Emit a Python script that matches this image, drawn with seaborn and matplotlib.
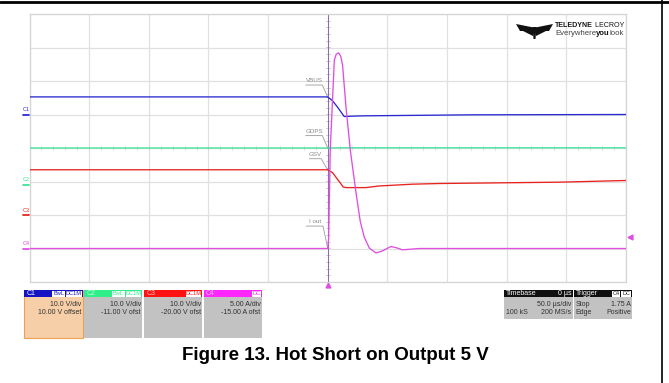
import numpy as np
import pandas as pd
import matplotlib
matplotlib.use("Agg")
import matplotlib.pyplot as plt
import seaborn as sns
from matplotlib.patches import Rectangle, Polygon
from matplotlib.lines import Line2D

# ---------------- data ----------------
# time in microseconds, trigger at 0
vbus_t = [-250, -0.3, 2, 4, 8, 13.8, 20, 30, 60, 120, 250]
vbus_v = [5.25, 5.25, 4.7, 4.1, 2.3, -0.6, -0.5, -0.4, -0.3, -0.1, 0.0]

gdps_t = [-250, 0, 10, 250]
gdps_v = [11.0, 11.0, 11.05, 11.05]

gsv_t = [-250, -0.2, 4, 13, 15.4, 32, 43, 71, 94, 144, 194, 250]
gsv_v = [13.5, 13.5, 12.66, 8.36, 8.18, 8.18, 8.66, 9.2, 9.4, 9.6, 9.8, 10.3]

iout_t = [-250, 0, 0.7, 2.1, 5.5, 7.1, 9.1, 10.9, 12.4, 15.3, 18.9, 23.7, 27.3,
          30.6, 34.8, 40.4, 45.7, 53, 58.3, 62.5, 76.8, 250]
iout_a = [0, 0, 1.3, 14.7, 28.1, 29.0, 29.2, 28.7, 27.4, 21.1, 14.7, 8.3, 4.0,
          1.7, 0.07, -0.67, -0.37, 0.3, 0.07, -0.2, 0, 0]

channels = ["C1", "C2", "C3", "C4"]
trace_names = ["VBUS", "GDPS", "GSV", "I out"]
scales = [10.0, 10.0, 10.0, 5.0]          # units/div
offsets = [10.0, -11.0, -20.0, -15.0]     # offset
colors = ["#2a2ad0", "#3ee39a", "#e8231f", "#e04ee0"]

panel_lines = [("10.0 V/div", "10.00 V offset"), ("10.0 V/div", "-11.00 V ofst"),
               ("10.0 V/div", "-20.00 V ofst"), ("5.00 A/div", "-15.00 A ofst")]
panel_boxes = [["BwL", "DC1M"], ["BwL", "DC1M"], ["DC1M"], ["DC"]]

timebase_text = ("Timebase", "0 µs", "50.0 µs/div", "100 kS", "200 MS/s")
trigger_text = ("Trigger", "Stop", "1.75 A", "Edge", "Positive")
trigger_level = 1.75
title = "Figure 13. Hot Short on Output 5 V"

# ---------------- figure ----------------
W, H = 669, 383
sns.set_style("white")
plt.rcParams["font.family"] = ["Liberation Sans", "DejaVu Sans"]
fig = plt.figure(figsize=(W / 100, H / 100), dpi=100)
fig.patch.set_facecolor("white")
renderer = fig.canvas.get_renderer()


def fx(x):
    return x / W


def fy(y):
    return 1 - y / H


L, R, T, B = 29.5, 626.0, 14.0, 282.0
ax = fig.add_axes([fx(L), fy(B), (R - L) / W, (B - T) / H])
ax.set_facecolor("white")

rows = []
series = [(vbus_t, vbus_v), (gdps_t, gdps_v), (gsv_t, gsv_v), (iout_t, iout_a)]
for ch, (tt, vv), sc, off in zip(channels, series, scales, offsets):
    for t, v in zip(tt, vv):
        rows.append({"t": t, "div": (v + off) / sc, "ch": ch})
df = pd.DataFrame(rows)

sns.lineplot(data=df, x="t", y="div", hue="ch", palette=dict(zip(channels, colors)),
             ax=ax, legend=False, linewidth=0.95, sort=False, estimator=None, zorder=3)

ax.set_xlim(-250, 250)
ax.set_ylim(-4, 4)
ax.set_xticks(np.arange(-250, 251, 50))
ax.set_yticks(np.arange(-4, 5, 1))
ax.grid(True, color="#e0e0e0", linewidth=0.9)
ax.set_axisbelow(True)
ax.tick_params(length=0, labelbottom=False, labelleft=False)
ax.set_xlabel("")
ax.set_ylabel("")
for s in ax.spines.values():
    s.set_color("#d4d4d4")
    s.set_linewidth(0.9)

# center axis ticks
for t in np.arange(-250, 251, 10):
    ax.plot([t, t], [-0.045, 0.045], color="#d0d0d0", lw=0.5, zorder=1)
for yv in np.arange(-4, 4.01, 0.2):
    ax.plot([-1.6, 1.6], [yv, yv], color="#c0b0cc", lw=0.5, zorder=1)
# trigger position line
ax.axvline(0, color="#8a6aa8", lw=0.7, zorder=1.5)

# trace labels with leader lines
label_pos = {"VBUS": (-11.5, 1.93), "GDPS": (-11.5, 0.42), "GSV": (-10.5, -0.27),
             "I out": (-11, -2.28)}
for name, ch, (tt, vv), sc, off in zip(trace_names, channels, series, scales, offsets):
    lx, ly = label_pos[name]
    v0 = np.interp(0.0, tt, vv)
    y0 = (v0 + off) / sc
    ax.text(lx, ly, name, fontsize=4.5, color="#8a8a8a", ha="center", va="bottom")
    half = 7.0 if len(name) > 3 else 5.0
    ax.plot([lx - half, lx + half, 0], [ly - 0.05, ly - 0.05, y0], color="#9a9a9a",
            lw=0.6, zorder=2)

# trigger level arrow on right
ty = (trigger_level + offsets[3]) / scales[3]
ax.plot([253], [ty], marker="<", color=colors[3], markersize=3.5, clip_on=False)
ax.plot([0], [-4.1], marker="^", color=colors[3], markersize=3.5, clip_on=False)

# channel ground markers on the left
for ch, sc, off, col in zip(channels, scales, offsets, colors):
    gy_div = off / sc
    ypix = T + (4 - gy_div) * (B - T) / 8
    fig.text(fx(22.5), fy(ypix - 5), ch, fontsize=4.0, color=col, ha="left", va="center")
    fig.add_artist(Line2D([fx(23), fx(28.5)], [fy(ypix), fy(ypix)], color=col, lw=1.3,
                          transform=fig.transFigure))

# top rule and right rule (document frame)
fig.add_artist(Line2D([0, 1], [fy(1.5), fy(1.5)], color="black", lw=2.0,
                      transform=fig.transFigure))
fig.add_artist(Line2D([fx(662), fx(662)], [fy(0), fy(383)], color="black", lw=1.2,
                      transform=fig.transFigure))


def rect(x0, y0, x1, y1, fc, ec="none", lw=0.0, z=3):
    fig.add_artist(Rectangle((fx(x0), fy(y1)), (x1 - x0) / W, (y1 - y0) / H,
                             facecolor=fc, edgecolor=ec, linewidth=lw,
                             transform=fig.transFigure, zorder=z))


FS = 5.0
hdr_cols = ["#1414c4", "#30ee88", "#ff1212", "#ff26ff"]
hdr_txt = ["white", "#b8ffd8", "#ffc0c0", "#ffc0ff"]
panel_x = [(24, 82.7), (84, 142.3), (144, 202.3), (203.5, 262)]
for i, (x0, x1) in enumerate(panel_x):
    body = "#f6cfa8" if i == 0 else "#c2c2c2"
    rect(x0, 290, x1, 338, body, ec="#f0a050" if i == 0 else "none", lw=0.8 if i == 0 else 0)
    rect(x0, 290, x1, 297.3, hdr_cols[i])
    fig.text(fx(x0 + 2.5), fy(293.8), channels[i], fontsize=FS, color=hdr_txt[i],
             ha="left", va="center", zorder=5)
    bx = x1 - 1
    for b in reversed(panel_boxes[i]):
        wb = 3.2 * len(b) + 3.0
        rect(bx - wb, 290.8, bx, 296.6, "white", z=4)
        fig.text(fx(bx - wb / 2), fy(293.8), b, fontsize=4.1, color=hdr_cols[i],
                 ha="center", va="center", zorder=5)
        bx -= wb + 1.0
    fig.text(fx(x1 - 1.5), fy(304.3), panel_lines[i][0], fontsize=FS, color="#303030",
             ha="right", va="center", zorder=5)
    fig.text(fx(x1 - 1.5), fy(313.0), panel_lines[i][1], fontsize=FS, color="#303030",
             ha="right", va="center", zorder=5)

# timebase panel
rect(504, 290, 572.7, 319.3, "#c2c2c2")
rect(504, 290, 572.7, 297.3, "#101010")
fig.text(fx(506), fy(293.8), timebase_text[0], fontsize=FS, color="white", ha="left",
         va="center", zorder=5)
fig.text(fx(571.5), fy(293.8), timebase_text[1], fontsize=FS, color="white", ha="right",
         va="center", zorder=5)
fig.text(fx(571.5), fy(304.3), timebase_text[2], fontsize=FS, color="#303030", ha="right",
         va="center", zorder=5)
fig.text(fx(505.5), fy(313.0), timebase_text[3], fontsize=FS, color="#303030", ha="left",
         va="center", zorder=5)
fig.text(fx(571.5), fy(313.0), timebase_text[4], fontsize=FS, color="#303030", ha="right",
         va="center", zorder=5)

# trigger panel
rect(574, 290, 631.7, 319.3, "#c2c2c2")
rect(574, 290, 631.7, 297.3, "#101010")
fig.text(fx(576), fy(293.8), trigger_text[0], fontsize=FS, color="white", ha="left",
         va="center", zorder=5)
rect(621.0, 290.8, 630.9, 296.6, "white", z=4)
rect(611.5, 290.8, 620.3, 296.6, "white", z=4)
fig.text(fx(615.9), fy(293.8), "C4", fontsize=4.0, color="#202020", ha="center",
         va="center", zorder=5)
fig.text(fx(626), fy(293.8), "DC", fontsize=4.0, color="#202020", ha="center",
         va="center", zorder=5)
fig.text(fx(575.5), fy(304.3), trigger_text[1], fontsize=FS, color="#303030", ha="left",
         va="center", zorder=5)
fig.text(fx(631), fy(304.3), trigger_text[2], fontsize=FS, color="#303030", ha="right",
         va="center", zorder=5)
fig.text(fx(575.5), fy(313.0), trigger_text[3], fontsize=FS, color="#303030", ha="left",
         va="center", zorder=5)
fig.text(fx(631), fy(313.0), trigger_text[4], fontsize=FS, color="#303030", ha="right",
         va="center", zorder=5)

# logo
logo = [[(516, 24), (533.5, 27.5), (533.5, 31), (520, 31)],
        [(553, 24), (535.5, 27.5), (535.5, 31), (549, 31)],
        [(532.5, 27), (536.5, 27), (535.5, 39), (533.5, 39)],
        [(523, 31), (533, 31), (533, 36)],
        [(546, 31), (536, 31), (536, 36)]]
for poly in logo:
    fig.add_artist(Polygon([(fx(a), fy(b)) for a, b in poly], closed=True,
                           facecolor="#111111", edgecolor="none", transform=fig.transFigure))


def seq_text(x, y, pieces, size):
    """draw text pieces one after another (x,y in pixels from top-left)"""
    for s, wgt, col in pieces:
        t = fig.text(fx(x), fy(y), s, fontsize=size, fontweight=wgt, color=col,
                     ha="left", va="center")
        bb = t.get_window_extent(renderer=renderer)
        x += bb.width


seq_text(555, 25.8, [("TELEDYNE", "bold", "#151515"), (" LECROY", "normal", "#151515")], 5.15)
seq_text(555, 33.4, [("Everywhere", "normal", "#444444"), ("you", "bold", "#111111"),
                     ("look", "normal", "#444444")], 5.6)

# caption
fig.text(fx(335.5), fy(355), title, fontsize=13.5, fontweight="bold", color="black",
         ha="center", va="center")

fig.savefig("out.png", dpi=100, facecolor="white")
